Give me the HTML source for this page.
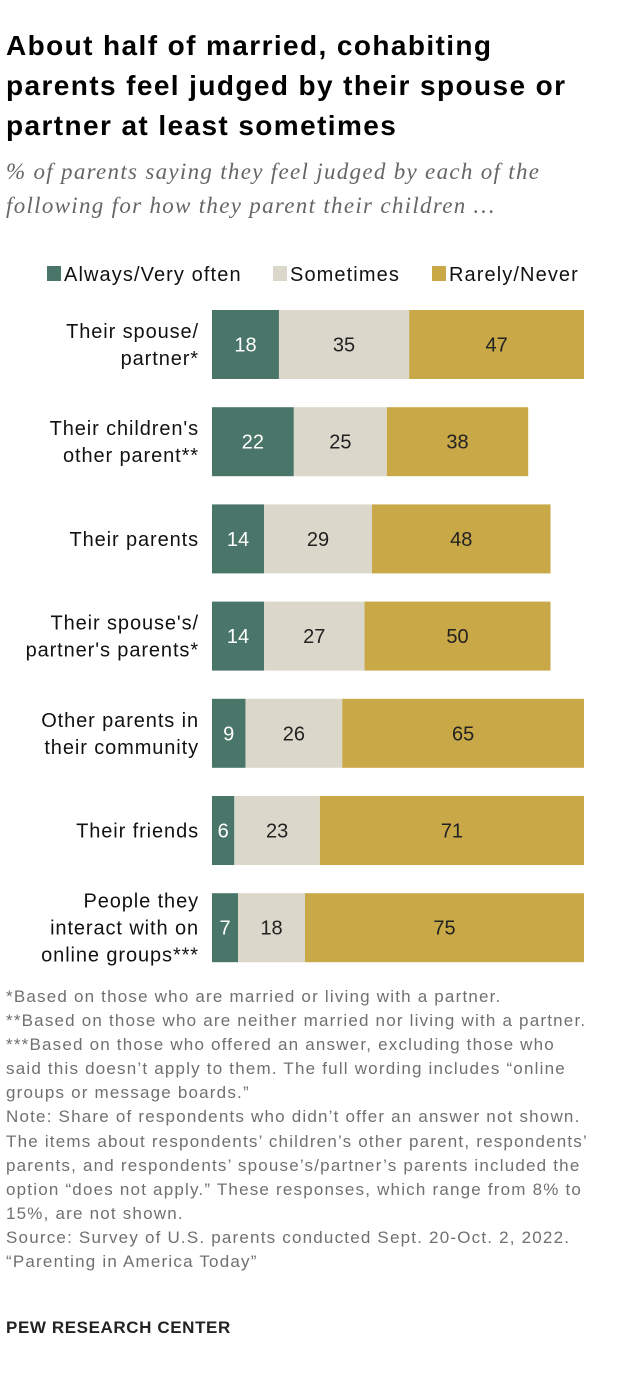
<!DOCTYPE html>
<html><head><meta charset="utf-8"><style>
body{margin:0;background:#fff;width:620px;height:1380px;overflow:hidden;font-family:"Liberation Sans",Arial,sans-serif;}
#title{position:absolute;left:6px;top:26px;font-weight:bold;font-size:28px;line-height:40px;color:#000;letter-spacing:1.4px;white-space:nowrap;}
#sub{position:absolute;left:6px;top:155px;font-family:"Liberation Serif",serif;font-style:italic;font-size:23px;line-height:34px;color:#666;letter-spacing:1.3px;white-space:nowrap;}
#notes{position:absolute;left:6px;top:985px;font-size:17px;line-height:24.1px;color:#707070;letter-spacing:1.2px;white-space:nowrap;}
#pew{position:absolute;left:6px;top:1318px;font-weight:bold;font-size:17px;color:#222;letter-spacing:0.6px;}
svg{position:absolute;left:0;top:0;}
</style></head><body>
<div id="title">About half of married, cohabiting<br>parents feel judged by their spouse or<br>partner at least sometimes</div>
<div id="sub">% of parents saying they feel judged by each of the<br>following for how they parent their children …</div>
<svg id="chart" width="620" height="1380"></svg>
<div id="notes">*Based on those who are married or living with a partner.<br>**Based on those who are neither married nor living with a partner.<br>***Based on those who offered an answer, excluding those who<br>said this doesn’t apply to them. The full wording includes “online<br>groups or message boards.”<br>Note: Share of respondents who didn’t offer an answer not shown.<br>The items about respondents’ children’s other parent, respondents’<br>parents, and respondents’ spouse’s/partner’s parents included the<br>option “does not apply.” These responses, which range from 8% to<br>15%, are not shown.<br>Source: Survey of U.S. parents conducted Sept. 20-Oct. 2, 2022.<br>“Parenting in America Today”</div>
<div id="pew">PEW RESEARCH CENTER</div>
<script>
const categories=[["Their spouse/","partner*"],["Their children's","other parent**"],["Their parents"],["Their spouse's/","partner's parents*"],["Other parents in","their community"],["Their friends"],["People they","interact with on","online groups***"]];
const always=[18,22,14,14,9,6,7];
const sometimes=[35,25,29,27,26,23,18];
const rarely=[47,38,48,50,65,71,75];
const seriesNames=["Always/Very often","Sometimes","Rarely/Never"];
const colors=["#4a7669","#dbd8cb","#c9a848"];
const textColors=["#fff","#222","#222"];
const NS="http://www.w3.org/2000/svg";
const svg=document.getElementById('chart');
const x0=212,scale=3.72,y0=310,step=97.2,bh=69;
function xs(v){return v*scale;}
function ys(i){return y0+i*step;}
function mk(tag,attrs,txt){const e=document.createElementNS(NS,tag);for(const k in attrs)e.setAttribute(k,attrs[k]);if(txt!==undefined)e.textContent=txt;svg.appendChild(e);return e;}
const legX=[47,273,432];
seriesNames.forEach((n,i)=>{
 const r=mk('rect',{x:legX[i],y:266,width:14,height:15,fill:colors[i]});
 
 
 const t=mk('text',{x:legX[i]+17,y:281,'font-size':20,'letter-spacing':1.1,fill:'#111'},n);
 
 
});
const series=[always,sometimes,rarely];
categories.forEach((c,i)=>{
 const cy=ys(i)+bh/2;
 const lh=27;
 c.forEach((line,j)=>{
  const t=mk('text',{x:199,y:cy+7+(j-(c.length-1)/2)*lh,'font-size':20,'letter-spacing':0.9,'text-anchor':'end',fill:'#111'},line);
  
  
 });
 let acc=0;
 series.forEach((s,k)=>{
  const v=s[i];
  const r=mk('rect',{x:x0+xs(acc),y:ys(i),width:xs(v),height:bh,fill:colors[k]});
  
  
  const t=mk('text',{x:x0+xs(acc+v/2),y:cy+7,'font-size':20,'text-anchor':'middle',fill:textColors[k]},v);
  
  
  acc+=v;
 });
});
</script>
</body></html>
